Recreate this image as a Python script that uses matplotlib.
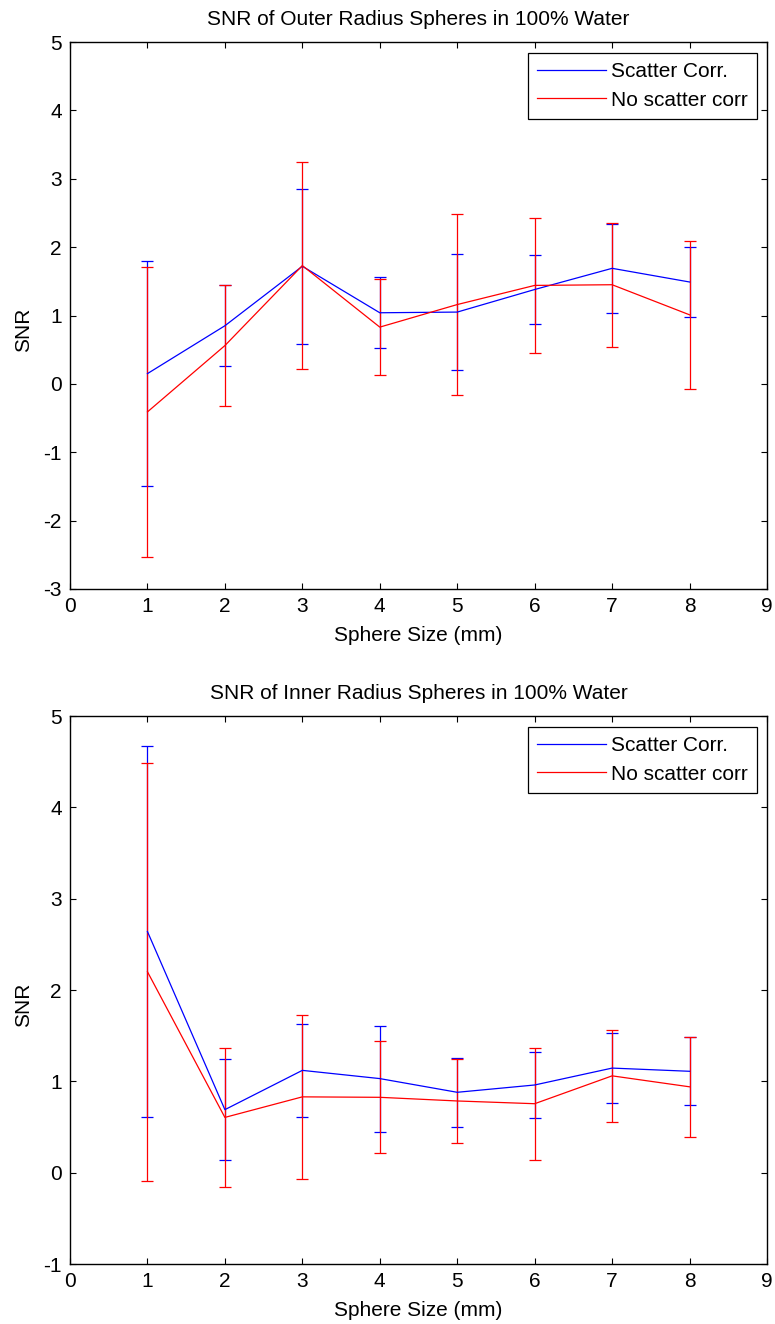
import matplotlib
matplotlib.use("Agg")
import matplotlib.pyplot as plt
from matplotlib.lines import Line2D

plt.rcParams['font.family'] = ['Liberation Sans', 'DejaVu Sans']
plt.rcParams['axes.unicode_minus'] = False

# Sphere sizes (mm)
sizes = [1, 2, 3, 4, 5, 6, 7, 8]

# Outer radius spheres: mean SNR and error half-widths
outer_corr = [0.15, 0.85, 1.72, 1.04, 1.05, 1.38, 1.69, 1.49]
outer_corr_err = [1.65, 0.59, 1.13, 0.52, 0.845, 0.51, 0.655, 0.505]
outer_nocorr = [-0.41, 0.56, 1.73, 0.83, 1.16, 1.44, 1.45, 1.01]
outer_nocorr_err = [2.12, 0.89, 1.515, 0.705, 1.32, 0.99, 0.91, 1.08]

# Inner radius spheres: mean SNR and error half-widths
inner_corr = [2.64, 0.69, 1.12, 1.03, 0.88, 0.96, 1.145, 1.11]
inner_corr_err = [2.03, 0.55, 0.51, 0.58, 0.38, 0.36, 0.385, 0.37]
inner_nocorr = [2.20, 0.605, 0.83, 0.825, 0.785, 0.755, 1.06, 0.94]
inner_nocorr_err = [2.29, 0.765, 0.90, 0.615, 0.465, 0.615, 0.50, 0.55]

series_labels = ['Scatter Corr.', 'No scatter corr']
series_colors = [(0, 0, 1), (1, 0, 0)]
titles = ['SNR of Outer Radius Spheres in 100% Water',
          'SNR of Inner Radius Spheres in 100% Water']
x_ticks = list(range(0, 10))
outer_y_ticks = list(range(-3, 6))
inner_y_ticks = list(range(-1, 6))

FS = 15
W, H = 775, 1324
fig = plt.figure(figsize=(W / 100, H / 100), dpi=100)

def px_axes(left, top, right, bottom):
    return fig.add_axes([left / W, 1 - bottom / H, (right - left) / W, (bottom - top) / H])

ax_top = px_axes(70, 42, 767, 589)
ax_bot = px_axes(70, 716, 767, 1264)

panels = [
    (ax_top, outer_corr, outer_corr_err, outer_nocorr, outer_nocorr_err, outer_y_ticks, titles[0]),
    (ax_bot, inner_corr, inner_corr_err, inner_nocorr, inner_nocorr_err, inner_y_ticks, titles[1]),
]

for ax, c, ce, n, ne, yt, title in panels:
    for vals, errs, col in [(c, ce, series_colors[0]), (n, ne, series_colors[1])]:
        ax.errorbar(sizes, vals, yerr=errs, color=col, lw=0.9, elinewidth=0.9,
                    capsize=4.3, capthick=0.9)
    ax.set_xlim(0, 9)
    ax.set_ylim(yt[0], yt[-1])
    ax.set_xticks(x_ticks)
    ax.set_yticks(yt)
    ax.set_xticklabels([str(v) for v in x_ticks])
    ax.set_yticklabels([str(v) for v in yt])
    ax.tick_params(direction='in', length=4, width=0.8, top=True, right=True,
                   labelsize=FS, pad=6)
    for sp in ax.spines.values():
        sp.set_linewidth(1.0)
    ax.set_title(title, fontsize=FS, pad=12)
    ax.set_xlabel('Sphere Size (mm)', fontsize=FS, labelpad=7)
    ax.set_ylabel('SNR', fontsize=FS)
    ax.yaxis.set_label_coords(-0.053, 0.473)
    handles = [Line2D([], [], color=col, lw=0.9) for col in series_colors]
    leg = ax.legend(handles, series_labels, loc='upper right',
                    bbox_to_anchor=(0.9857, 0.980),
                    borderaxespad=0, fontsize=FS, handlelength=3.3,
                    handletextpad=0.25, labelspacing=0.45, borderpad=0.45,
                    fancybox=False, framealpha=1, edgecolor='black')
    leg.get_frame().set_linewidth(0.9)

fig.savefig('out.png', dpi=100)
